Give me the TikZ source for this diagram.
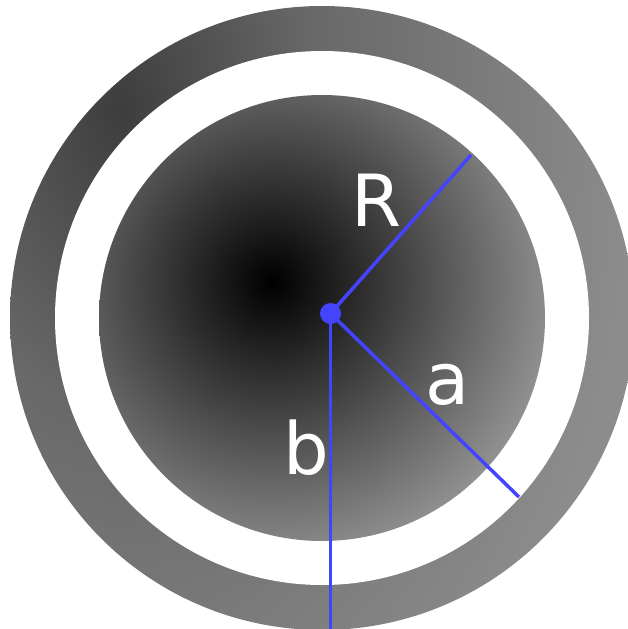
\documentclass[tikz,border=0pt]{standalone}
\usepackage{fontspec}
\setmainfont{DejaVu Sans}
\definecolor{lineBlue}{RGB}{68,68,255}
\definecolor{ringDark}{gray}{0.24}
\definecolor{ringMid}{gray}{0.41}
\definecolor{ringSoft}{gray}{0.50}
\definecolor{ringLight}{gray}{0.55}
\definecolor{diskLight}{gray}{0.57}
\pgfdeclareradialshading{ringShade}{\pgfpoint{0bp}{0bp}}{color(0bp)=(ringDark); color(8.93bp)=(ringMid); color(17.86bp)=(ringSoft); color(23.2bp)=(ringLight); color(50bp)=(ringLight)}

\begin{document}
\begin{tikzpicture}[x=1pt, y=-1pt,
    radius line/.style={lineBlue, line width=3.5pt},
    label text/.style={white, inner sep=0pt, font=\fontsize{72}{86}\selectfont}]
    \useasboundingbox (0,0) rectangle (627,629);
    \coordinate (C) at (322,318);
    \begin{scope}
      \clip (C) circle (312);
      \shade[shading=ringShade] (120,110) ellipse (560 and 840);
    \end{scope}
    \fill[white] (C) circle (267);
    \begin{scope}
      \clip (C) circle (223);
      \shade[inner color=black, outer color=diskLight] (272,282) circle (285);
    \end{scope}
    \coordinate (O) at (330.5,313.5);
    \coordinate (Rend) at (471,155);
    \coordinate (aend) at (519,497);
    \coordinate (bend) at (330.5,629);
    \draw[radius line] (O) -- (Rend);
    \draw[radius line] (O) -- (aend);
    \draw[radius line] (O) -- (bend);
    \node[circle, fill=lineBlue, minimum size=21pt, inner sep=0pt] (centre) at (O) {};
    \node[label text] (Rlabel) at (377,200) {R};
    \node[label text] (alabel) at (448,385) {a};
    \node[label text] (blabel) at (306,448) {b};
  \end{tikzpicture}
\end{document}
